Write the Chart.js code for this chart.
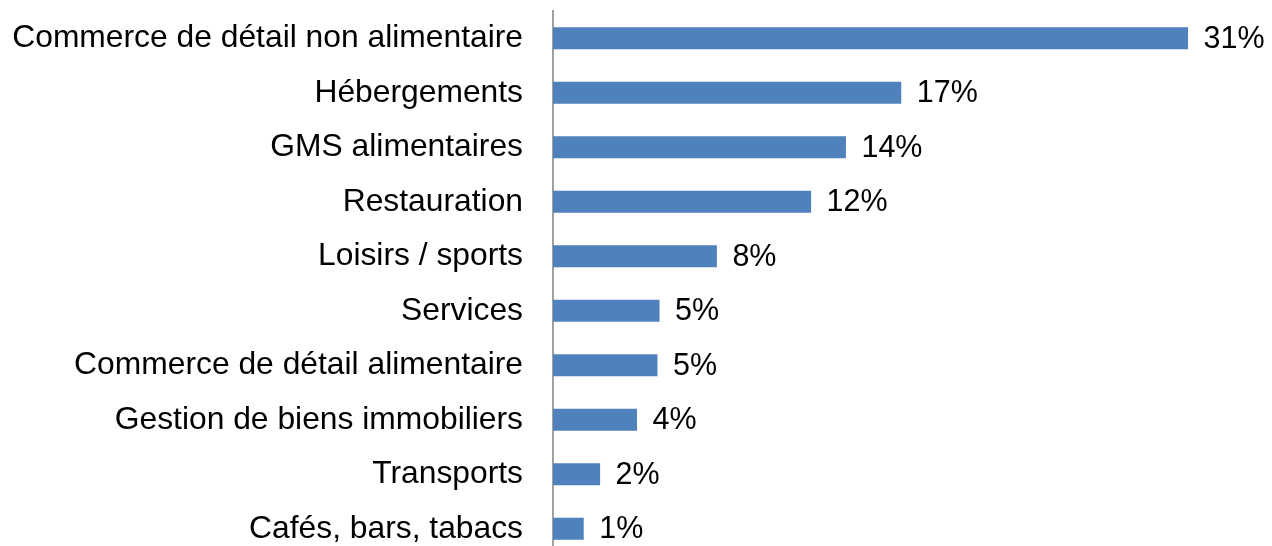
<!DOCTYPE html>
<html lang="fr">
<head>
<meta charset="utf-8">
<script src="https://cdn.jsdelivr.net/npm/chart.js@4/dist/chart.umd.min.js"></script>
<style>
  html, body { margin: 0; padding: 0; background: #fff; overflow: hidden; }
  #wrap { width: 1272px; height: 560px; }
</style>
</head>
<body>
<div id="wrap"><canvas id="c"></canvas></div>
<script>
const secteurs = [
  "Commerce de détail non alimentaire",
  "Hébergements",
  "GMS alimentaires",
  "Restauration",
  "Loisirs / sports",
  "Services",
  "Commerce de détail alimentaire",
  "Gestion de biens immobiliers",
  "Transports",
  "Cafés, bars, tabacs",
];
const parts = [31, 17, 14.3, 12.6, 8.0, 5.2, 5.1, 4.1, 2.3, 1.5];
const etiquettes = ["31%", "17%", "14%", "12%", "8%", "5%", "5%", "4%", "2%", "1%"];

const font = { family: "'Liberation Sans', Arial, sans-serif" };

// étiquettes de valeur au bout des barres
const valeurs = {
  id: "valeurs",
  afterDatasetsDraw(chart) {
    const { ctx } = chart;
    const meta = chart.getDatasetMeta(0);
    ctx.save();
    ctx.font = "30.5px " + font.family;
    ctx.fillStyle = "#000";
    ctx.textAlign = "left";
    ctx.textBaseline = "middle";
    meta.data.forEach((bar, i) => {
      ctx.fillText(etiquettes[i], bar.x + 15.5, bar.y + 1);
    });
    ctx.restore();
  },
};

new Chart(document.getElementById("c"), {
  type: "bar",
  data: {
    labels: secteurs,
    datasets: [{
      data: parts,
      backgroundColor: "#4F81BD",
      borderWidth: 0,
      categoryPercentage: 1,
      barPercentage: 0.404,
    }],
  },
  options: {
    indexAxis: "y",
    responsive: true,
    maintainAspectRatio: false,
    animation: false,
    layout: { padding: { top: 11, right: 2, bottom: 4, left: 0 } },
    plugins: { legend: { display: false }, tooltip: { enabled: false } },
    scales: {
      x: { display: false, min: 0, max: 35 },
      y: {
        z: 1,
        grid: { display: false, drawTicks: false },
        border: { display: true, color: "#A0A0A0", width: 2 },
        ticks: { color: "#000", padding: 30, font: { ...font, size: 31.8 } },
        afterFit: (s) => { s.width = 553; s.paddingTop = 0; s.paddingBottom = 0; },
      },
    },
  },
  plugins: [valeurs],
});
</script>
</body>
</html>
